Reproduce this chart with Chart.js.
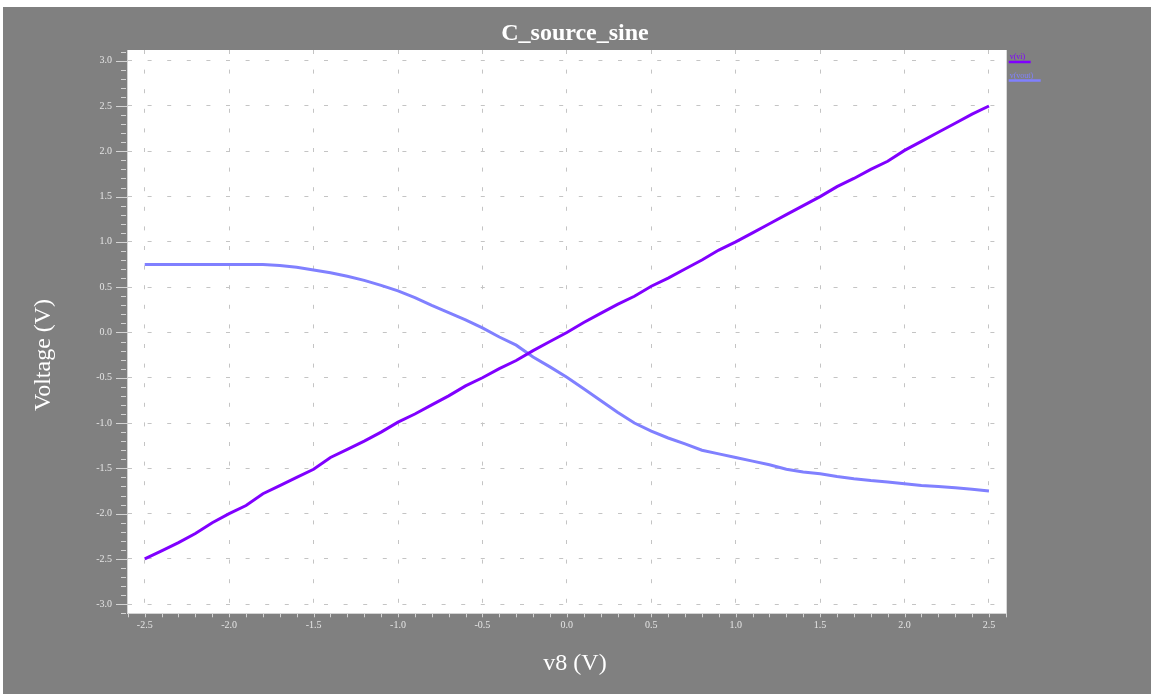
<!DOCTYPE html>
<html><head><meta charset="utf-8">
<script src="https://cdn.jsdelivr.net/npm/chart.js@4/dist/chart.umd.min.js"></script>
<style>
html,body{margin:0;padding:0;background:#fff;}
#wrap{position:absolute;left:3px;top:7px;width:1148px;height:687px;background:#808080;}
</style></head><body>
<div id="wrap"><canvas id="c"></canvas></div>
<script>
const chartTitle = 'C_source_sine';
const xAxisTitle = 'v8 (V)';
const yAxisTitle = 'Voltage (V)';
const seriesNames = ['v(vi)', 'v(vout)'];
const seriesColors = ['rgb(128,0,255)', 'rgb(128,128,255)'];

const sweepV8 = [-2.5,-2.4,-2.3,-2.2,-2.1,-2.0,-1.9,-1.8,-1.7,-1.6,-1.5,-1.4,-1.3,-1.2,-1.1,-1.0,-0.9,-0.8,-0.7,-0.6,-0.5,-0.4,-0.3,-0.2,-0.1,0.0,0.1,0.2,0.3,0.4,0.5,0.6,0.7,0.8,0.9,1.0,1.1,1.2,1.3,1.4,1.5,1.6,1.7,1.8,1.9,2.0,2.1,2.2,2.3,2.4,2.5];
const vVi = [-2.5,-2.41,-2.32,-2.22,-2.10,-2.0,-1.91,-1.78,-1.69,-1.60,-1.51,-1.38,-1.29,-1.20,-1.10,-0.99,-0.90,-0.80,-0.70,-0.59,-0.50,-0.40,-0.31,-0.20,-0.10,0.0,0.11,0.21,0.31,0.40,0.51,0.60,0.70,0.80,0.91,1.0,1.10,1.20,1.30,1.40,1.50,1.61,1.70,1.80,1.89,2.01,2.11,2.21,2.31,2.41,2.50];
const vVout = [0.75,0.75,0.75,0.75,0.75,0.75,0.75,0.75,0.74,0.72,0.69,0.66,0.62,0.575,0.52,0.46,0.385,0.30,0.22,0.14,0.05,-0.05,-0.14,-0.27,-0.38,-0.495,-0.62,-0.75,-0.88,-1.0,-1.09,-1.165,-1.23,-1.30,-1.34,-1.38,-1.42,-1.46,-1.51,-1.54,-1.56,-1.59,-1.615,-1.635,-1.65,-1.67,-1.69,-1.70,-1.715,-1.73,-1.75];

const xTickValues = [-2.5,-2.0,-1.5,-1.0,-0.5,0.0,0.5,1.0,1.5,2.0,2.5];
const yTickValues = [-3.0,-2.5,-2.0,-1.5,-1.0,-0.5,0.0,0.5,1.0,1.5,2.0,2.5,3.0];

const SERIF = "'Liberation Serif', 'DejaVu Serif', serif";

const decorPlugin = {
  id: 'decor',
  beforeDraw(chart) {
    const {ctx, chartArea: a} = chart;
    ctx.save();
    ctx.fillStyle = '#ffffff';
    ctx.fillRect(a.left, a.top, a.right - a.left, a.bottom - a.top);
    ctx.restore();
  },
  afterDraw(chart) {
    const {ctx, chartArea: a, scales} = chart;
    const xs = scales.x, ys = scales.y;
    ctx.save();
    ctx.strokeStyle = '#d4d4d4';
    ctx.lineWidth = 1;
    ctx.beginPath();
    for (let i = -31; i <= 31; i++) {
      const py = Math.round(ys.getPixelForValue(i / 10)) + 0.5;
      if (py < a.top - 1 || py > a.bottom + 1) continue;
      const major = i % 5 === 0;
      ctx.moveTo(a.left - (major ? 11 : 6), py);
      ctx.lineTo(a.left - (major ? 0 : 1), py);
    }
    for (let i = -26; i <= 26; i++) {
      const px = Math.round(xs.getPixelForValue(i / 10)) + 0.5;
      if (px < a.left - 1 || px > a.right + 1) continue;
      ctx.moveTo(px, a.bottom);
      ctx.lineTo(px, a.bottom + 4);
    }
    ctx.stroke();

    const cx = chart.width / 2 - 2;
    ctx.fillStyle = '#ffffff';
    ctx.textAlign = 'center';
    ctx.textBaseline = 'alphabetic';
    ctx.font = "bold 24px " + SERIF;
    ctx.fillText(chartTitle, cx, 33);
    ctx.font = "24px " + SERIF;
    ctx.fillText(xAxisTitle, cx, 663);
    ctx.save();
    ctx.translate(47, 348);
    ctx.rotate(-Math.PI / 2);
    ctx.fillText(yAxisTitle, 0, 0);
    ctx.restore();

    const lx = a.right + 2;
    const rows = [{y: 52, ly: 55, len: 22}, {y: 71, ly: 73.5, len: 32}];
    ctx.textAlign = 'left';
    ctx.font = "8px " + SERIF;
    rows.forEach((r, i) => {
      ctx.fillStyle = seriesColors[i];
      ctx.fillText(seriesNames[i], lx + 1, r.y);
      ctx.strokeStyle = seriesColors[i];
      ctx.lineWidth = 2.5;
      ctx.beginPath();
      ctx.moveTo(lx, r.ly);
      ctx.lineTo(lx + r.len, r.ly);
      ctx.stroke();
    });
    ctx.restore();
  }
};

const toPts = (xsArr, ysArr) => xsArr.map((x, i) => ({x: x, y: ysArr[i]}));

new Chart(document.getElementById('c'), {
  type: 'scatter',
  data: {
    datasets: [
      {label: seriesNames[0], data: toPts(sweepV8, vVi), showLine: true, borderColor: seriesColors[0], backgroundColor: seriesColors[0], borderWidth: 3, pointRadius: 0, tension: 0},
      {label: seriesNames[1], data: toPts(sweepV8, vVout), showLine: true, borderColor: seriesColors[1], backgroundColor: seriesColors[1], borderWidth: 3, pointRadius: 0, tension: 0}
    ]
  },
  options: {
    responsive: true,
    maintainAspectRatio: false,
    animation: false,
    layout: {padding: {top: 43, right: 144.3, bottom: 0, left: 0}},
    plugins: {legend: {display: false}, title: {display: false}, tooltip: {enabled: false}},
    scales: {
      x: {
        type: 'linear', min: -2.605, max: 2.605,
        afterBuildTicks: s => { s.ticks = xTickValues.map(v => ({value: v})); },
        afterFit: s => { s.height = 80.7; },
        ticks: {callback: v => Number(v).toFixed(1), font: {family: SERIF, size: 10}, color: '#e4e4e4', padding: 2, maxRotation: 0, autoSkip: false},
        grid: {color: '#c4c4c4', lineWidth: 1, tickLength: 4, tickColor: 'rgba(0,0,0,0)'},
        border: {display: true, color: '#d4d4d4', width: 1, dash: [4, 15.6]}
      },
      y: {
        type: 'linear', min: -3.1, max: 3.118,
        afterBuildTicks: s => { s.ticks = yTickValues.map(v => ({value: v})); },
        afterFit: s => { s.width = 124; },
        ticks: {callback: v => Number(v).toFixed(1), font: {family: SERIF, size: 10}, color: '#e4e4e4', padding: 5, autoSkip: false},
        grid: {color: '#c4c4c4', lineWidth: 1, tickLength: 10, tickColor: 'rgba(0,0,0,0)'},
        border: {display: true, color: '#d4d4d4', width: 1, dash: [4, 15.6]}
      }
    }
  },
  plugins: [decorPlugin]
});
</script>
</body></html>
